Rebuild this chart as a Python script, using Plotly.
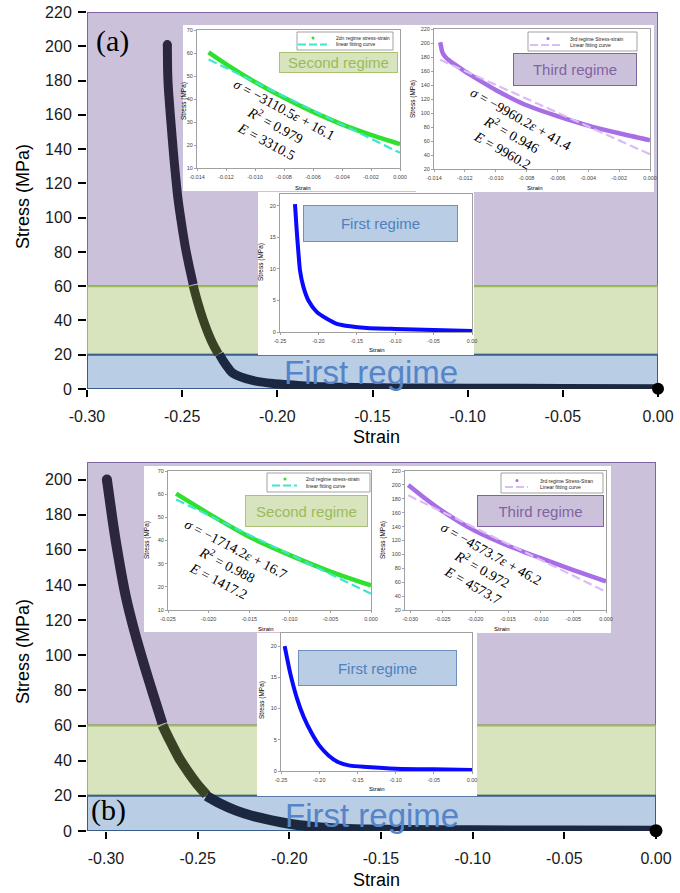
import plotly.graph_objects as go

W, H = 680, 893

# ---------------- data ----------------
# Panel (a) - first regime (absolute strain, also main curve low part)
a1_strain = [-0.2305, -0.2283, -0.2261, -0.2240, -0.2196, -0.2130, -0.2022, -0.1890, -0.1760, -0.1587, -0.1370, -0.1000, -0.0500, 0.0]
a1_stress = [20.3, 16.2, 12.7, 9.8, 7.2, 5.0, 3.2, 2.1, 1.3, 0.9, 0.64, 0.48, 0.32, 0.16]
# Panel (a) - second regime (relative strain)
a2_strain = [-0.0132, -0.012, -0.010, -0.008, -0.006, -0.004, -0.002, 0.0]
a2_stress = [60.3, 55.2, 47.4, 40.5, 34.4, 29.0, 24.4, 20.4]
a2_fit_strain = [-0.0132, 0.0]
a2_fit_stress = [57.2, 16.6]
# Panel (a) - third regime (relative strain)
a3_strain = [-0.0136, -0.01355, -0.0135, -0.0134, -0.0132, -0.0129, -0.0125, -0.0121, -0.011, -0.010, -0.008, -0.006, -0.004, -0.002, 0.0]
a3_stress = [201, 196, 190, 184, 178.5, 173, 167, 161, 146, 133, 111, 95.5, 82, 71, 61]
a3_fit_strain = [-0.0136, 0.0]
a3_fit_stress = [176.0, 41.0]
# Panel (a) - main curve upper parts (absolute strain)
a_main_r3_strain = [-0.2578, -0.25775, -0.2577, -0.2576, -0.2574, -0.2571, -0.2567, -0.2563, -0.2552, -0.2542, -0.2522, -0.2502, -0.2482, -0.2462, -0.2442]
a_main_r3_stress = [201, 196, 190, 184, 178.5, 173, 167, 161, 146, 133, 111, 95.5, 82, 71, 61]
a_main_r2_strain = [-0.2442, -0.2430, -0.2410, -0.2390, -0.2370, -0.2350, -0.2330, -0.2310]
a_main_r2_stress = [60.3, 55.2, 47.4, 40.5, 34.4, 29.0, 24.4, 20.4]

# Panel (b) - first regime
b1_strain = [-0.2452, -0.2378, -0.2290, -0.2204, -0.2096, -0.2000, -0.1878, -0.1748, -0.1596, -0.1378, -0.1000, -0.0500, 0.0]
b1_stress = [20.0, 15.6, 11.6, 8.7, 6.0, 4.1, 2.5, 1.4, 0.86, 0.64, 0.37, 0.27, 0.16]
# Panel (b) - second regime
b2_strain = [-0.024, -0.020, -0.015, -0.010, -0.005, 0.0]
b2_stress = [60.2, 51.6, 41.6, 33.7, 26.6, 20.6]
b2_fit_strain = [-0.024, 0.0]
b2_fit_stress = [57.7, 17.0]
# Panel (b) - third regime
b3_strain = [-0.0303, -0.0275, -0.025, -0.020, -0.015, -0.010, -0.005, 0.0]
b3_stress = [200, 179, 162, 133.5, 112.5, 94.5, 77.5, 61]
b3_fit_strain = [-0.0303, 0.0]
b3_fit_stress = [185.0, 46.3]
# Panel (b) - main curve upper parts
b_main_r3_strain = [-0.2995, -0.2967, -0.2942, -0.2892, -0.2842, -0.2792, -0.2742, -0.2692]
b_main_r3_stress = [200, 179, 162, 133.5, 112.5, 94.5, 77.5, 61]
b_main_r2_strain = [-0.2692, -0.2652, -0.2602, -0.2552, -0.2502, -0.2452]
b_main_r2_stress = [60.2, 51.6, 41.6, 33.7, 26.6, 20.6]

# tick labels
main_x_ticks = [-0.30, -0.25, -0.20, -0.15, -0.10, -0.05, 0.00]
main_x_labels = ["-0.30", "-0.25", "-0.20", "-0.15", "-0.10", "-0.05", "0.00"]
a_y_ticks = [0, 20, 40, 60, 80, 100, 120, 140, 160, 180, 200, 220]
b_y_ticks = [0, 20, 40, 60, 80, 100, 120, 140, 160, 180, 200]
r1_x_ticks = [-0.25, -0.20, -0.15, -0.10, -0.05, 0.00]
r1_x_labels = ["-0.25", "-0.20", "-0.15", "-0.10", "-0.05", "0.00"]
r1_y_ticks = [0, 5, 10, 15, 20]
r2_y_ticks = [10, 20, 30, 40, 50, 60, 70]
r3_y_ticks = [20, 40, 60, 80, 100, 120, 140, 160, 180, 200, 220]
a_rx_ticks = [-0.014, -0.012, -0.010, -0.008, -0.006, -0.004, -0.002, 0.000]
a_rx_labels = ["-0.014", "-0.012", "-0.010", "-0.008", "-0.006", "-0.004", "-0.002", "0.000"]
b2_x_ticks = [-0.025, -0.020, -0.015, -0.010, -0.005, 0.000]
b2_x_labels = ["-0.025", "-0.020", "-0.015", "-0.010", "-0.005", "0.000"]
b3_x_ticks = [-0.030, -0.025, -0.020, -0.015, -0.010, -0.005, 0.000]
b3_x_labels = ["-0.030", "-0.025", "-0.020", "-0.015", "-0.010", "-0.005", "0.000"]

# ---------------- layout helpers ----------------
SANS = "Liberation Sans, Arial, sans-serif"
SERIF = "Liberation Serif, Times New Roman, serif"

def xdom(x0, x1):
    return [x0 / W, x1 / W]

def ydom(ytop, ybot):
    return [1 - ybot / H, 1 - ytop / H]

A_XPX, A_YPX, A_XR, A_YR = (87, 658), (12, 389), (-0.30, 0.0), (0, 220)
B_XPX, B_YPX, B_XR, B_YR = (87, 656), (462, 831), (-0.31036, 0.0), (0, 210)

def to_data(px, py, xpx, ypx, xr, yr):
    x = xr[0] + (px - xpx[0]) / (xpx[1] - xpx[0]) * (xr[1] - xr[0])
    y = yr[0] + (ypx[1] - py) / (ypx[1] - ypx[0]) * (yr[1] - yr[0])
    return x, y

fig = go.Figure()
shapes = []
annotations = []

PURPLE_F, PURPLE_L = "#ccc1da", "#8064a2"
GREEN_F, GREEN_L = "#d7e4bd", "#9bbb59"
BLUE_F, BLUE_L = "#b9cde5", "#385d8a"

def bands(xref, yref, xr, ytop):
    for y0, y1, f, l in [(60, ytop, PURPLE_F, PURPLE_L), (20, 60, GREEN_F, GREEN_L), (0, 20, BLUE_F, BLUE_L)]:
        shapes.append(dict(type="rect", xref=xref, yref=yref, x0=xr[0], x1=xr[1], y0=y0, y1=y1,
                           fillcolor=f, line=dict(color=l, width=2), layer="below"))

bands("x", "y", A_XR, 220)
bands("x2", "y2", B_XR, 210)

def white_box(x0, y0, x1, y1, panel):
    if panel == "a":
        p = (A_XPX, A_YPX, A_XR, A_YR); xr, yr = "x", "y"
    else:
        p = (B_XPX, B_YPX, B_XR, B_YR); xr, yr = "x2", "y2"
    dx0, dy0 = to_data(x0, y1, *p)
    dx1, dy1 = to_data(x1, y0, *p)
    shapes.append(dict(type="rect", xref=xr, yref=yr, x0=dx0, x1=dx1, y0=dy0, y1=dy1,
                       fillcolor="white", line=dict(width=0), layer="below"))

white_box(183, 25, 416, 191, "a")
white_box(416, 25, 654, 192, "a")
white_box(258, 192, 474, 355, "a")
white_box(144, 466, 378, 632, "b")
white_box(378, 466, 611, 633, "b")
white_box(257, 633, 477, 796, "b")

# ---------------- main curves ----------------
def main_curve(xa, ya, parts, width):
    for sx, sy, col in parts:
        fig.add_trace(go.Scatter(x=sx, y=sy, mode="lines", line=dict(color=col, width=width, shape="spline", smoothing=0.6),
                                 xaxis=xa, yaxis=ya, showlegend=False, cliponaxis=False, hoverinfo="skip"))
    sx0, sy0, c0 = parts[0]
    sxe, sye, ce = parts[-1]
    fig.add_trace(go.Scatter(x=[sx0[0]], y=[sy0[0]], mode="markers", marker=dict(color=c0, size=width),
                             xaxis=xa, yaxis=ya, showlegend=False, cliponaxis=False, hoverinfo="skip"))
    fig.add_trace(go.Scatter(x=[sxe[-1]], y=[sye[-1]], mode="markers", marker=dict(color="#000000", size=width + 3),
                             xaxis=xa, yaxis=ya, showlegend=False, cliponaxis=False, hoverinfo="skip"))

C3, C2, C1 = "#2c2640", "#394224", "#1b2840"
main_curve("x", "y", [(a_main_r3_strain, a_main_r3_stress, C3), (a_main_r2_strain, a_main_r2_stress, C2),
                      (a1_strain, a1_stress, C1)], 9)
main_curve("x2", "y2", [(b_main_r3_strain, b_main_r3_stress, C3), (b_main_r2_strain, b_main_r2_stress, C2),
                        (b1_strain, b1_stress, C1)], 10)

# ---------------- main axes ----------------
def main_axes(n, xpx, ypx, xr, yr, yticks):
    sx = "" if n == 1 else str(n)
    fig.layout["xaxis" + sx] = dict(domain=xdom(*xpx), range=list(xr), anchor="y" + sx, automargin=False,
                                   tickvals=main_x_ticks, ticktext=main_x_labels, ticks="outside", ticklen=7,
                                   tickwidth=1.5, tickcolor="#000", showline=False, showgrid=False, zeroline=False,
                                   tickfont=dict(family=SANS, size=16, color="#1a1a1a"), ticklabelstandoff=6)
    fig.layout["yaxis" + sx] = dict(domain=ydom(*ypx), range=list(yr), anchor="x" + sx, automargin=False,
                                   tickvals=yticks, ticktext=[str(v) for v in yticks], ticks="outside", ticklen=8,
                                   tickwidth=1.5, tickcolor="#000", showline=False, showgrid=False, zeroline=False,
                                   tickfont=dict(family=SANS, size=16, color="#1a1a1a"), ticklabelstandoff=3)

main_axes(1, A_XPX, A_YPX, A_XR, A_YR, a_y_ticks)
main_axes(2, B_XPX, B_YPX, B_XR, B_YR, b_y_ticks)

def ann(x, y, text, size, color="#000", family=SANS, angle=0, **kw):
    d = dict(x=x / W, y=1 - y / H, xref="paper", yref="paper", text=text, showarrow=False,
             font=dict(family=family, size=size, color=color), textangle=angle,
             xanchor="center", yanchor="middle")
    d.update(kw)
    annotations.append(d)

ann(23, 197, "Stress (MPa)", 18, angle=-90)
ann(23, 652, "Stress (MPa)", 18, angle=-90)
ann(376, 437, "Strain", 18)
ann(376, 880, "Strain", 18)
ann(112, 41, "(a)", 30, family=SERIF)
ann(108, 810, "(b)", 30, family=SERIF)
ann(371, 372, "First regime", 33, color="#5585c8")
ann(372, 815, "First regime", 33, color="#5585c8")

# ---------------- insets ----------------
AX_COL = "#a0a0a0"

def inset(n, xpx, ypx, xr, yr, xt, xl, yt, sx, sy, col, width, fx=None, fy=None, fcol=None,
          xtitle_pos=None, ytitle_pos=None):
    s = str(n)
    fig.layout["xaxis" + s] = dict(domain=xdom(*xpx), range=list(xr), anchor="y" + s, automargin=False,
                                  tickvals=xt, ticktext=xl, ticks="outside", ticklen=2, tickcolor=AX_COL,
                                  showline=True, linecolor=AX_COL, linewidth=1, mirror=True,
                                  showgrid=False, zeroline=False, tickfont=dict(family=SANS, size=5.5, color="#444"),
                                  ticklabelstandoff=1)
    fig.layout["yaxis" + s] = dict(domain=ydom(*ypx), range=list(yr), anchor="x" + s, automargin=False,
                                  tickvals=yt, ticktext=[str(v) for v in yt], ticks="outside", ticklen=2,
                                  tickcolor=AX_COL, showline=True, linecolor=AX_COL, linewidth=1, mirror=True,
                                  showgrid=False, zeroline=False, tickfont=dict(family=SANS, size=5.5, color="#444"),
                                  ticklabelstandoff=0)
    fig.add_trace(go.Scatter(x=sx, y=sy, mode="lines", line=dict(color=col, width=width, shape="spline", smoothing=0.6),
                             xaxis="x" + s, yaxis="y" + s, showlegend=False, hoverinfo="skip"))
    if fx is not None:
        fig.add_trace(go.Scatter(x=fx, y=fy, mode="lines", line=dict(color=fcol, width=2.2, dash="9px,4px"),
                                 xaxis="x" + s, yaxis="y" + s, showlegend=False, hoverinfo="skip"))
    ann(xtitle_pos[0], xtitle_pos[1], "Strain", 6)
    ann(ytitle_pos[0], ytitle_pos[1], "Stress (MPa)", 6.5, angle=-90)

G_COL, CYAN = "#2fe02f", "#3ee6cf"
P_COL, LP = "#a76ee6", "#dcbcf4"
BL = "#0a0aff"

inset(3, (197, 400), (30, 168), (-0.014, 0.0), (10, 70), a_rx_ticks, a_rx_labels, r2_y_ticks,
      a2_strain, a2_stress, G_COL, 4.5, a2_fit_strain, a2_fit_stress, CYAN, (303, 188), (184, 101))
inset(4, (434, 650), (29, 169), (-0.014, 0.0), (20, 220), a_rx_ticks, a_rx_labels, r3_y_ticks,
      a3_strain, a3_stress, P_COL, 4.5, a3_fit_strain, a3_fit_stress, LP, (535, 188), (413, 99))
inset(5, (280, 472), (194, 332), (-0.25, 0.0), (0, 21.9), r1_x_ticks, r1_x_labels, r1_y_ticks,
      a1_strain, a1_stress, BL, 4, xtitle_pos=(377, 350), ytitle_pos=(261, 262))
inset(6, (168, 371), (471, 610), (-0.025, 0.0), (10, 70), b2_x_ticks, b2_x_labels, r2_y_ticks,
      b2_strain, b2_stress, G_COL, 4.5, b2_fit_strain, b2_fit_stress, CYAN, (266, 629), (147, 540))
inset(7, (405, 606), (471, 610), (-0.0308, 0.0), (20, 220), b3_x_ticks, b3_x_labels, r3_y_ticks,
      b3_strain, b3_stress, P_COL, 4.5, b3_fit_strain, b3_fit_stress, LP, (502, 629), (383, 540))
inset(8, (281, 472), (633, 771), (-0.25, 0.0), (0, 22.1), r1_x_ticks, r1_x_labels, r1_y_ticks,
      b1_strain, b1_stress, BL, 4, xtitle_pos=(377, 789), ytitle_pos=(262, 700))

# regime label boxes
def label_box(x0, y0, x1, y1, text, fill, border, color, size=15):
    ann((x0 + x1) / 2, (y0 + y1) / 2, text, size, color=color, width=x1 - x0 - 2, height=y1 - y0 - 2,
        bgcolor=fill, bordercolor=border, borderwidth=1, borderpad=0)

label_box(279, 52, 398, 73, "Second regime", GREEN_F, "#a9c274", "#9bbb59")
label_box(513, 53, 637, 86, "Third regime", PURPLE_F, PURPLE_L, "#8064a2")
label_box(303, 205, 458, 242, "First regime", BLUE_F, "#6f8fbd", "#4f81bd")
label_box(245, 495, 368, 527, "Second regime", GREEN_F, "#a9c274", "#9bbb59")
label_box(477, 495, 604, 527, "Third regime", PURPLE_F, PURPLE_L, "#8064a2")
label_box(298, 650, 457, 686, "First regime", BLUE_F, "#6f8fbd", "#4f81bd")

# equations
def equation(cx, cy, a, b, r2, e, angle=29):
    txt = ("<i>σ</i> = −%s<i>ε</i> + %s<br><i>R</i><sup>2</sup> = %s<br><i>E</i> = %s" % (a, b, r2, e))
    ann(cx, cy, txt, 14, family=SERIF, angle=angle)

equation(275, 126, "3110.5", "16.1", "0.979", "3310.5", 28.5)
equation(511, 135, "9960.2", "41.4", "0.946", "9960.2", 29.5)
equation(228, 565, "1714.2", "16.7", "0.988", "1417.2", 27.5)
equation(482, 569, "4573.7", "46.2", "0.972", "4573.7", 29.5)

# manual inset legends
def legend_box(x0, y0, x1, y1, rows, dot_x, dash_x0, dash_x1, text_x):
    shapes.append(dict(type="rect", xref="paper", yref="paper", x0=x0 / W, x1=x1 / W, y0=1 - y1 / H, y1=1 - y0 / H,
                       fillcolor="white", line=dict(color="#8c8c8c", width=0.8), layer="above"))
    for (ry, label, col, kind) in rows:
        if kind == "dot":
            shapes.append(dict(type="circle", xref="paper", yref="paper", x0=(dot_x - 1.5) / W, x1=(dot_x + 1.5) / W,
                               y0=1 - (ry + 1.5) / H, y1=1 - (ry - 1.5) / H, fillcolor=col, line=dict(width=0),
                               layer="above"))
        else:
            shapes.append(dict(type="line", xref="paper", yref="paper", x0=dash_x0 / W, x1=dash_x1 / W,
                               y0=1 - ry / H, y1=1 - ry / H, line=dict(color=col, width=2, dash="8px,3px"),
                               layer="above"))
        ann(text_x, ry, label, 5, color="#222", xanchor="left")

legend_box(297, 32, 393, 50, [(38, "2dn regime stress-strain", G_COL, "dot"), (44.5, "linear fitting curve", CYAN, "dash")],
           313, 298, 327, 334)
legend_box(528, 32, 637, 51, [(38.5, "3rd regime Stress-strain", P_COL, "dot"), (45, "Linear fitting curve", LP, "dash")],
           548, 530, 560, 568)
legend_box(267, 473, 370, 492, [(479, "2nd regime stress-strain", G_COL, "dot"), (485.5, "linear fitting curve", CYAN, "dash")],
           285, 272, 297, 304)
legend_box(501, 473, 603, 493, [(480.5, "3rd regime Stress-Stran", P_COL, "dot"), (487, "Linear fitting curve", LP, "dash")],
           517, 505, 528, 538)

fig.update_layout(width=W, height=H, margin=dict(l=0, r=0, t=0, b=0, pad=0, autoexpand=False), autosize=False,
                  paper_bgcolor="white", plot_bgcolor="rgba(0,0,0,0)", showlegend=False,
                  shapes=shapes, annotations=annotations)

fig.write_html("out.html")
